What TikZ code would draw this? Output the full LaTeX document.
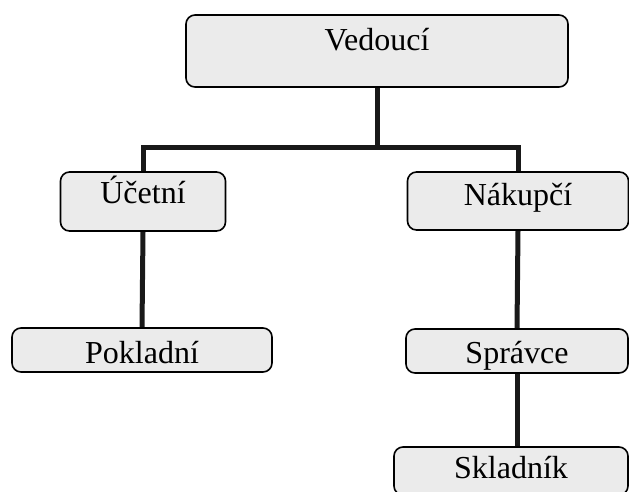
\documentclass[tikz,border=0pt]{standalone}
\usepackage{fontspec}
\setmainfont{Liberation Serif}
\usetikzlibrary{backgrounds}
\tikzset{
  orgbox/.style={draw=black, line width=1.6pt, fill=black!8, rounded corners=9pt,
    inner sep=0pt, font=\fontsize{32}{36}\selectfont, align=center},
  link/.style={line width=5pt, black!90}
}
\begin{document}
\begin{tikzpicture}[x=1pt,y=-1pt]
  \clip (0,0) rectangle (629,491);
  \useasboundingbox (0,0) rectangle (629,491);
  % boxes: width, text height above baseline, text depth below baseline
  \node[orgbox, minimum width=382pt, text height=35pt, text depth=37pt] (ved) at (377,51) {Vedoucí};
  \node[orgbox, minimum width=165pt, text height=31pt, text depth=28pt] (uce) at (143,201.5) {Účetní};
  \node[orgbox, minimum width=221pt, text height=33pt, text depth=25pt] (nak) at (518,201) {Nákupčí};
  \node[orgbox, minimum width=260pt, text height=35pt, text depth=9pt] (pok) at (142,350) {Pokladní};
  \node[orgbox, minimum width=222pt, text height=34pt, text depth=10pt] (spr) at (517,351) {Správce};
  \node[orgbox, minimum width=234pt, text height=31pt, text depth=17pt] (skl) at (511,471) {Skladník};
  \coordinate (bus) at (377,147);
  \begin{scope}[on background layer]
    \draw[link] (ved.south) -- (bus);
    \draw[link] (bus) -| (uce.north);
    \draw[link] (bus) -| (nak.north);
    \draw[link] (uce.south) -- (pok.north);
    \draw[link] (nak.south) -- (spr.north);
    \draw[link] (spr.south) -- (skl.north -| spr.south);
  \end{scope}
\end{tikzpicture}
\end{document}
